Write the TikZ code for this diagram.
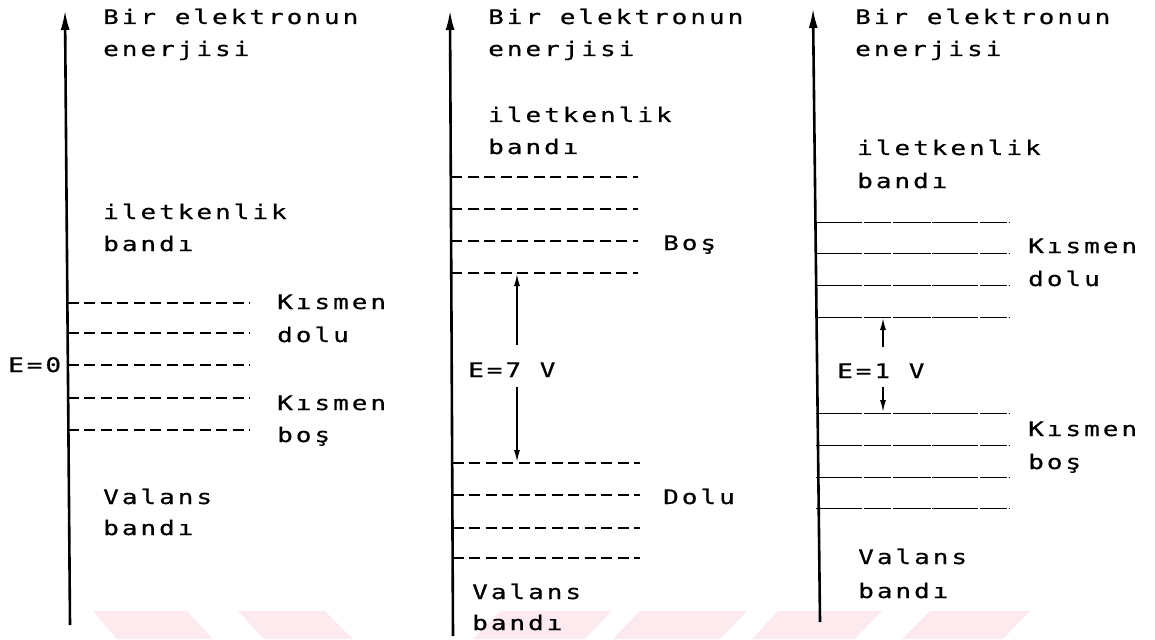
\documentclass[tikz,border=0pt]{standalone}
\usepackage{fontspec}
\usetikzlibrary{arrows.meta}
\newfontfamily\dotfont[FakeStretch=1.3,LetterSpace=15,FakeBold=0.6]{DejaVu Sans Mono}
\definecolor{wm}{RGB}{252,234,238}
\begin{document}
\begin{tikzpicture}[x=1pt,y=-1pt,
  txt/.style={anchor=base west,inner sep=0pt,font=\dotfont\fontsize{20}{24}\selectfont},
  axisline/.style={line width=2.6pt,-{Latex[length=20pt,width=9pt]}},
  lvl/.style={line width=2.1pt,dash pattern=on 11pt off 5.5pt},
  thinlvl/.style={line width=0.8pt,dash pattern=on 46pt off 1.5pt on 27pt off 2pt on 38pt off 1.5pt},
  gaparrow/.style={line width=1.5pt,-{Latex[length=12pt,width=6pt]}},
  wmark/.style={fill=wm,draw=none}]
\useasboundingbox (0,0) rectangle (1155,639);
% watermark
\fill[wmark] (93,611) -- (187,611) -- (213,639) -- (117,639) -- cycle;
\fill[wmark] (238,611) -- (325,611) -- (353,639) -- (264,639) -- cycle;
\fill[wmark] (500,611) -- (612,611) -- (585,639) -- (473,639) -- cycle;
\fill[wmark] (640,611) -- (747,611) -- (720,639) -- (613,639) -- cycle;
\fill[wmark] (778,611) -- (882,611) -- (855,639) -- (752,639) -- cycle;
\fill[wmark] (930,611) -- (1030,611) -- (1003,639) -- (902,639) -- cycle;

% ---------- panel 1 ----------
\coordinate (a1b) at (70,625);
\coordinate (a1t) at (65,10);
\draw[axisline] (a1b) -- (a1t);
\node[txt] (t1a) at (103,24) {Bir elektronun};
\node[txt] (t1b) at (103,56) {enerjisi};
\node[txt] (c1a) at (103,219) {iletkenlik};
\node[txt] (c1b) at (103,251) {bandı};
\foreach \yy in {303,333,365,398,430} \draw[lvl] (67.5,\yy) -- (250,\yy);
\node[txt] (k1a) at (277,309) {Kısmen};
\node[txt] (k1b) at (277,342) {dolu};
\node[txt] (e0) at (8,372) {E=0};
\node[txt] (k1c) at (277,410) {Kısmen};
\node[txt] (k1d) at (277,442) {boş};
\node[txt] (v1a) at (103,504) {Valans};
\node[txt] (v1b) at (103,535) {bandı};

% ---------- panel 2 ----------
\coordinate (a2b) at (453,636);
\coordinate (a2t) at (450,10);
\draw[axisline] (a2b) -- (a2t);
\node[txt] (t2a) at (488,24) {Bir elektronun};
\node[txt] (t2b) at (488,56) {enerjisi};
\node[txt] (c2a) at (488,122) {iletkenlik};
\node[txt] (c2b) at (488,154) {bandı};
\foreach \yy in {177,209,241,273} \draw[lvl] (451,\yy) -- (638,\yy);
\node[txt] (b2) at (663,250) {Boş};
\foreach \yy in {463,495,528,558} \draw[lvl] (452.5,\yy) -- (640,\yy);
\node[txt] (d2) at (663,504) {Dolu};
\node[txt] (e7) at (468,377) {E=7 V};
\coordinate (e7u) at (517,345);
\coordinate (e7ut) at (517,274);
\coordinate (e7d) at (517,387);
\coordinate (e7dt) at (517,462);
\draw[gaparrow] (e7u) -- (e7ut);
\draw[gaparrow] (e7d) -- (e7dt);
\node[txt] (v2a) at (472,599) {Valans};
\node[txt] (v2b) at (472,630) {bandı};

% ---------- panel 3 ----------
\coordinate (a3b) at (820,622);
\coordinate (a3t) at (813,8);
\draw[axisline] (a3b) -- (a3t);
\node[txt] (t3a) at (855,24) {Bir elektronun};
\node[txt] (t3b) at (855,56) {enerjisi};
\node[txt] (c3a) at (857,155) {iletkenlik};
\node[txt] (c3b) at (857,188) {bandı};
\foreach \yy in {222,253,285,317,413,445,477,508} \draw[thinlvl] (816,\yy) -- (1010,\yy);
\node[txt] (k3a) at (1028,253) {Kısmen};
\node[txt] (k3b) at (1028,286) {dolu};
\node[txt] (e1) at (837,378) {E=1 V};
\coordinate (e1u) at (883,347);
\coordinate (e1ut) at (883,318);
\coordinate (e1d) at (883,387);
\coordinate (e1dt) at (883,412);
\draw[gaparrow] (e1u) -- (e1ut);
\draw[gaparrow] (e1d) -- (e1dt);
\node[txt] (k3c) at (1028,436) {Kısmen};
\node[txt] (k3d) at (1028,469) {boş};
\node[txt] (v3a) at (858,564) {Valans};
\node[txt] (v3b) at (858,598) {bandı};
\end{tikzpicture}
\end{document}
